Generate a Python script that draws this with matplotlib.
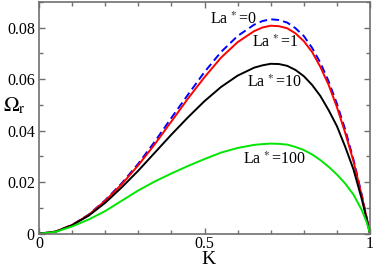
import matplotlib
matplotlib.use("Agg")
import matplotlib.pyplot as plt
from matplotlib.ticker import MultipleLocator, FixedLocator

plt.rcParams['font.family'] = ['Liberation Serif', 'DejaVu Serif']
plt.rcParams['mathtext.fontset'] = 'stix'

K = [0, 0.05, 0.1, 0.15, 0.2, 0.25, 0.3, 0.35, 0.4, 0.45, 0.5, 0.55, 0.6,
     0.65, 0.675, 0.7, 0.725, 0.75, 0.775, 0.8, 0.825, 0.85, 0.875, 0.9,
     0.925, 0.95, 0.975, 0.99, 1.0]
om_la0 = [0, 0.0008, 0.0034, 0.0074, 0.0130, 0.0196, 0.0272, 0.0358, 0.0450,
          0.0540, 0.0628, 0.0706, 0.0768, 0.0812, 0.0826, 0.0833, 0.0830,
          0.0820, 0.0798, 0.0768, 0.0722, 0.0664, 0.0592, 0.0505, 0.0405,
          0.0288, 0.0152, 0.0062, 0]
om_la1 = [0, 0.0008, 0.0034, 0.0073, 0.0128, 0.0192, 0.0266, 0.0348, 0.0436,
          0.0525, 0.0608, 0.0684, 0.0744, 0.0787, 0.0801, 0.0808, 0.0806,
          0.0798, 0.0778, 0.0748, 0.0706, 0.0648, 0.0578, 0.0492, 0.0392,
          0.0282, 0.0148, 0.0060, 0]
om_la10 = [0, 0.0008, 0.0033, 0.0070, 0.0120, 0.0180, 0.0245, 0.0315, 0.0385,
           0.0452, 0.0515, 0.0570, 0.0614, 0.0645, 0.0654, 0.0660, 0.0659,
           0.0652, 0.0636, 0.0612, 0.0578, 0.0535, 0.0480, 0.0418, 0.0338,
           0.0250, 0.0135, 0.0056, 0]
om_la100 = [0, 0.0007, 0.0028, 0.0055, 0.0088, 0.0128, 0.0168, 0.0203, 0.0234,
            0.0263, 0.0290, 0.0315, 0.0333, 0.0345, 0.0348, 0.0350, 0.0349,
            0.0346, 0.0337, 0.0325, 0.0308, 0.0286, 0.0260, 0.0230, 0.0195,
            0.0152, 0.0092, 0.0045, 0]

labels = ['0', '1', '10', '100']
label_pos = [(0.517, 0.0815), (0.644, 0.0725), (0.629, 0.057), (0.617, 0.027)]

xticks = [0, 0.5, 1]
xticklabels = ['0', '0.5', '1']
yticks = [0, 0.02, 0.04, 0.06, 0.08]
yticklabels = ['0', '0.02', '0.04', '0.06', '0.08']

fig = plt.figure(figsize=(3.74, 2.72), dpi=100)
ax = fig.add_axes([0.1043, 0.1408, 0.885, 0.8518])

ax.plot(K, om_la0, color='#0000ff', lw=1.4, ls=(0, (4, 2.2)))
ax.plot(K, om_la1, color='#ff0000', lw=1.4)
ax.plot(K, om_la10, color='#000000', lw=1.4)
ax.plot(K, om_la100, color='#00e600', lw=1.4)

for lab, (x, y) in zip(labels, label_pos):
    ax.text(x, y, 'La' + r'$^{\,*}$' + '=' + lab, fontsize=11.5,
            ha='left', va='baseline')

ax.set_xlim(0, 1)
ax.set_ylim(0, 0.09)
ax.xaxis.set_major_locator(FixedLocator(xticks))
ax.set_xticklabels(xticklabels)
ax.yaxis.set_major_locator(FixedLocator(yticks))
ax.set_yticklabels(yticklabels)
ax.xaxis.set_minor_locator(MultipleLocator(0.1))
ax.yaxis.set_minor_locator(MultipleLocator(0.01))

fc = '#707070'
for s in ax.spines.values():
    s.set_color(fc)
    s.set_linewidth(1.2)
ax.tick_params(which='both', direction='in', top=True, right=True,
               color=fc, labelsize=11.5, labelcolor='black')
ax.tick_params(which='major', length=4.5, width=1)
ax.tick_params(which='minor', length=3, width=1)
ax.tick_params(axis='x', pad=1.5)
ax.tick_params(axis='y', pad=3)

fig.text(208 / 374, 1 - 260 / 272, 'K', fontsize=14, ha='center', va='center')
fig.text(3 / 374, 1 - 106 / 272, r'$\mathrm{\Omega}_{\mathrm{r}}$', fontsize=15,
         ha='left', va='center')

fig.savefig('out.png', dpi=100)
